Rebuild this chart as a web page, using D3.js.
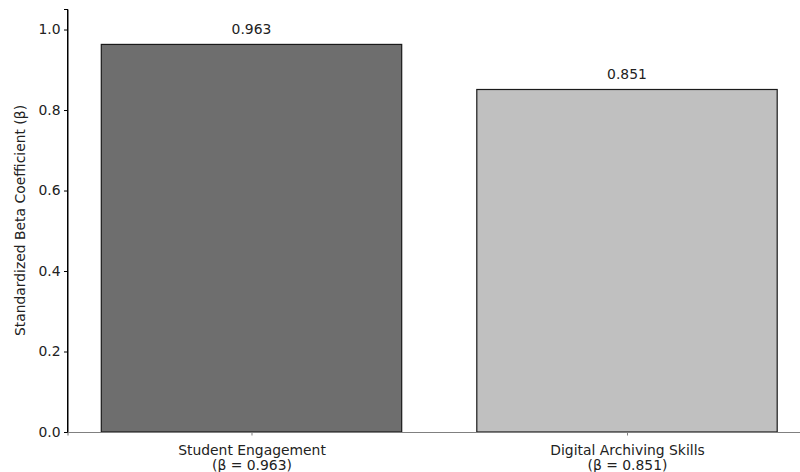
<!DOCTYPE html>
<html><head><meta charset="utf-8">
<script src="https://cdn.jsdelivr.net/npm/d3@7"></script>
<style>body{margin:0;background:#fff}svg{display:block}text{font-family:"DejaVu Sans",sans-serif}</style>
</head><body><svg id="c" width="800" height="472"></svg>
<script>
const categories = ["Student Engagement", "Digital Archiving Skills"];
const subLabels = ["(β = 0.963)", "(β = 0.851)"];
const values = [0.963, 0.851];
const valueLabels = ["0.963", "0.851"];
const colors = ["#6e6e6e", "#c0c0c0"];
const yTicks = [0.0, 0.2, 0.4, 0.6, 0.8, 1.0];

const svg = d3.select("#c");
const mLeft = 67.5, mTop = 9, mBottom = 432;
const unit = 375.5;
const x = d3.scaleLinear().domain([-0.49, 1.49]).range([mLeft, mLeft + 1.98 * unit]);
const y = d3.scaleLinear().domain([0, 1.051]).range([mBottom, mTop]);
const fs = 13.9;

// bars
values.forEach((v, i) => {
  svg.append("rect")
    .attr("x", x(i - 0.4)).attr("width", x(i + 0.4) - x(i - 0.4))
    .attr("y", y(v)).attr("height", y(0) - y(v))
    .attr("fill", colors[i]).attr("stroke", "#1a1a1a").attr("stroke-width", 1.2);
  svg.append("text").attr("x", x(i)).attr("y", y(v) - 10)
    .attr("text-anchor", "middle").attr("font-size", fs).attr("fill", "#222")
    .text(valueLabels[i]);
});

// y axis
const ya = svg.append("g").attr("transform", `translate(${mLeft},0)`)
  .call(d3.axisLeft(y).tickValues(yTicks).tickFormat(d3.format(".1f")).tickSizeOuter(0).tickSize(3.5).tickPadding(3.5));
ya.select(".domain").attr("stroke", "#000").attr("stroke-width", 1);
ya.selectAll(".tick line").attr("stroke", "#000");
ya.selectAll(".tick text").attr("font-size", fs).attr("fill", "#222").attr("font-family", "DejaVu Sans");

// x axis
const xa = svg.append("g").attr("transform", `translate(0,${mBottom})`)
  .call(d3.axisBottom(x).tickValues([0, 1]).tickFormat(() => "").tickSizeOuter(0).tickSize(3.5));
xa.select(".domain").attr("stroke", "#808080").attr("stroke-width", 1.2);
xa.selectAll(".tick line").attr("stroke", "#808080");
xa.selectAll(".tick").each(function(d) {
  const t = d3.select(this).append("text").attr("text-anchor", "middle")
    .attr("font-size", fs).attr("fill", "#222").attr("font-family", "DejaVu Sans");
  t.append("tspan").attr("x", 0).attr("y", 23).text(categories[d]);
  t.append("tspan").attr("x", 0).attr("y", 38).text(subLabels[d]);
});
svg.append("line").attr("x1", mLeft).attr("x2", mLeft).attr("y1", mTop).attr("y2", mBottom + 0.5).attr("stroke", "#000");

// y label
svg.append("text").attr("transform", `translate(25,${(mTop + mBottom) / 2}) rotate(-90)`)
  .attr("text-anchor", "middle").attr("font-size", fs).attr("fill", "#222")
  .text("Standardized Beta Coefficient (β)");
</script></body></html>
